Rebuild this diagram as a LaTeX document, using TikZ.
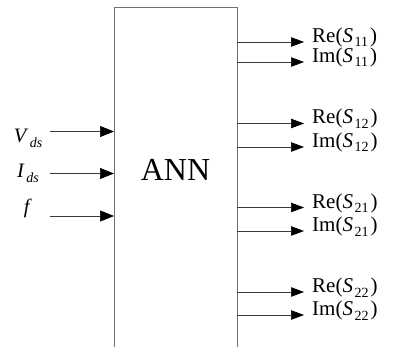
\documentclass[tikz,border=0pt]{standalone}
\usepackage{fontspec}
\setmainfont{Liberation Serif}
\usetikzlibrary{arrows.meta}
\definecolor{linec}{HTML}{3A3A3A}
\definecolor{boxc}{HTML}{707070}
\newcommand{\subs}[1]{\kern1.5pt\raisebox{-4.5pt}{\fontsize{14}{14}\selectfont #1}}
\newcommand{\inport}[4]{%
  \coordinate (#1a) at (50,#2);
  \coordinate (#1b) at (114,#2);
  \node[anchor=base,font=\fontsize{20.5}{20.5}\selectfont,inner sep=0pt] (#1) at (28,#3) {#4};
  \draw[linec,line width=0.6pt,-{Triangle[length=14pt,width=11pt,color=black]}] (#1a) -- (#1b);
}
\newcommand{\outport}[3]{%
  \coordinate (#1a) at (237,#2);
  \coordinate (#1b) at (304,#2);
  \draw[linec,line width=0.6pt,-{Triangle[length=13pt,width=9.5pt,color=black]}] (#1a) -- (#1b);
  \node[anchor=base west,inner sep=0pt,font=\fontsize{21}{21}\selectfont] (#1) at ([xshift=8pt,yshift=-0.5pt]#1b) {#3};
}
\newcommand{\sparam}[2]{#1(\textit{S}\subs{#2}\kern2pt)}

\begin{document}
\begin{tikzpicture}[x=1pt,y=-1pt]
  \useasboundingbox (0,0) rectangle (395,347);
  % network block, open at the bottom
  \coordinate (bl) at (114,347);
  \coordinate (tl) at (114,7);
  \coordinate (tr) at (237,7);
  \coordinate (br) at (237,347);
  \draw[boxc,line width=0.7pt] (bl) -- (tl) -- (tr) -- (br);
  \node[anchor=base,inner sep=0pt,font=\fontsize{32}{32}\selectfont] (ann) at (175.5,180) {ANN};
  % inputs
  \inport{vds}{131.5}{143}{\textit{V}\subs{\textit{ds}}}
  \inport{ids}{173.5}{178}{\textit{I}\subs{\textit{ds}}}
  \inport{freq}{216}{213}{\textit{f}}
  % outputs
  \outport{res11}{42}{\sparam{Re}{11}}
  \outport{ims11}{62}{\sparam{Im}{11}}
  \outport{res12}{123.5}{\sparam{Re}{12}}
  \outport{ims12}{147}{\sparam{Im}{12}}
  \outport{res21}{207.5}{\sparam{Re}{21}}
  \outport{ims21}{231}{\sparam{Im}{21}}
  \outport{res22}{292}{\sparam{Re}{22}}
  \outport{ims22}{315}{\sparam{Im}{22}}
\end{tikzpicture}
\end{document}
